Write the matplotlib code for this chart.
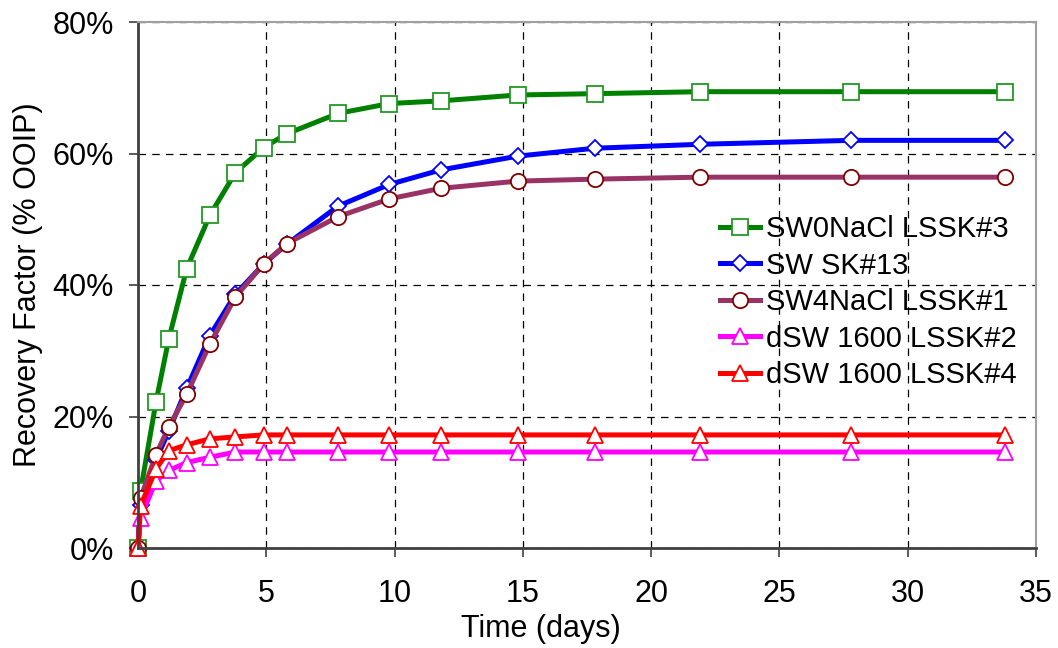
import matplotlib
matplotlib.use("Agg")
import matplotlib.pyplot as plt
from matplotlib.ticker import FuncFormatter

plt.rcParams['font.family'] = ['Liberation Sans', 'DejaVu Sans']

days = [0, 0.1, 0.7, 1.2, 1.9, 2.8, 3.8, 4.9, 5.8, 7.8, 9.8, 11.8, 14.8, 17.8, 21.9, 27.8, 33.8]

sw0nacl_lssk3 = [0, 8.7, 22.2, 31.8, 42.5, 50.6, 57.1, 60.9, 63.0, 66.1, 67.6, 68.0, 68.9, 69.1, 69.4, 69.4, 69.4]
sw_sk13 = [0, 6.5, 13.4, 17.8, 24.3, 32.3, 38.6, 43.2, 46.2, 52.0, 55.3, 57.5, 59.6, 60.8, 61.4, 62.0, 62.0]
sw4nacl_lssk1 = [0, 7.6, 14.2, 18.4, 23.4, 31.0, 38.2, 43.2, 46.3, 50.4, 53.1, 54.7, 55.8, 56.1, 56.4, 56.4, 56.4]
dsw1600_lssk2 = [0, 4.6, 10.2, 11.8, 13.0, 13.8, 14.6, 14.6, 14.6, 14.6, 14.6, 14.6, 14.6, 14.6, 14.6, 14.6, 14.6]
dsw1600_lssk4 = [0, 6.4, 12.0, 14.8, 15.7, 16.6, 16.9, 17.2, 17.2, 17.2, 17.2, 17.2, 17.2, 17.2, 17.2, 17.2, 17.2]

labels = ["SW0NaCl LSSK#3", "SW SK#13", "SW4NaCl LSSK#1", "dSW 1600 LSSK#2", "dSW 1600 LSSK#4"]

fig = plt.figure(figsize=(10.58, 6.48), dpi=100)
ax = fig.add_axes([138/1058, 1-548/648, (1036-138)/1058, (548-22)/648])

styles = [
    (sw0nacl_lssk3, "#008000", "s", "#229922", 11.5),
    (sw_sk13, "#0000FF", "D", "#0000FF", 8.5),
    (sw4nacl_lssk1, "#993366", "o", "#800000", 11),
    (dsw1600_lssk2, "#FF00FF", "^", "#FF00FF", 11),
    (dsw1600_lssk4, "#FF0000", "^", "#FF0000", 11),
]
for (vals, col, mk, mec, ms), lab in zip(styles, labels):
    ax.plot(days, vals, color=col, lw=3.6, marker=mk, markersize=ms,
            markerfacecolor="white", markeredgecolor=mec, markeredgewidth=1.3,
            label=lab, clip_on=False)

ax.set_xlim(0, 35)
ax.set_ylim(0, 80)
ax.set_xticks(range(0, 36, 5))
ax.set_yticks(range(0, 81, 20))
ax.yaxis.set_major_formatter(FuncFormatter(lambda v, p: f"{int(v)}%"))
ax.grid(True, color="black", linestyle=(0, (6, 5)), linewidth=0.9)
ax.set_axisbelow(True)
ax.tick_params(axis="both", direction="out", length=6.5, width=1.2, labelsize=22,
               colors="#404040", labelcolor="black")
ax.tick_params(axis="x", pad=16)
ax.tick_params(axis="y", pad=11)
ax.set_xlabel("Time (days)", fontsize=22, labelpad=3)
ax.xaxis.set_label_coords(0.449, -0.125, transform=ax.transAxes)
ax.set_ylabel("Recovery Factor (% OOIP)", fontsize=22, labelpad=7)
for s in ["left", "bottom"]:
    ax.spines[s].set_color("#404040")
    ax.spines[s].set_linewidth(2)
for s in ["top", "right"]:
    ax.spines[s].set_color("#a0a0a0")
    ax.spines[s].set_linewidth(1.5)

leg = ax.legend(loc="upper left", bbox_to_anchor=(0.635, 0.655), frameon=False, fontsize=21,
                handlelength=1.37, labelspacing=0.29, handletextpad=0.2, borderaxespad=0)

fig.savefig("out.png", dpi=100)
